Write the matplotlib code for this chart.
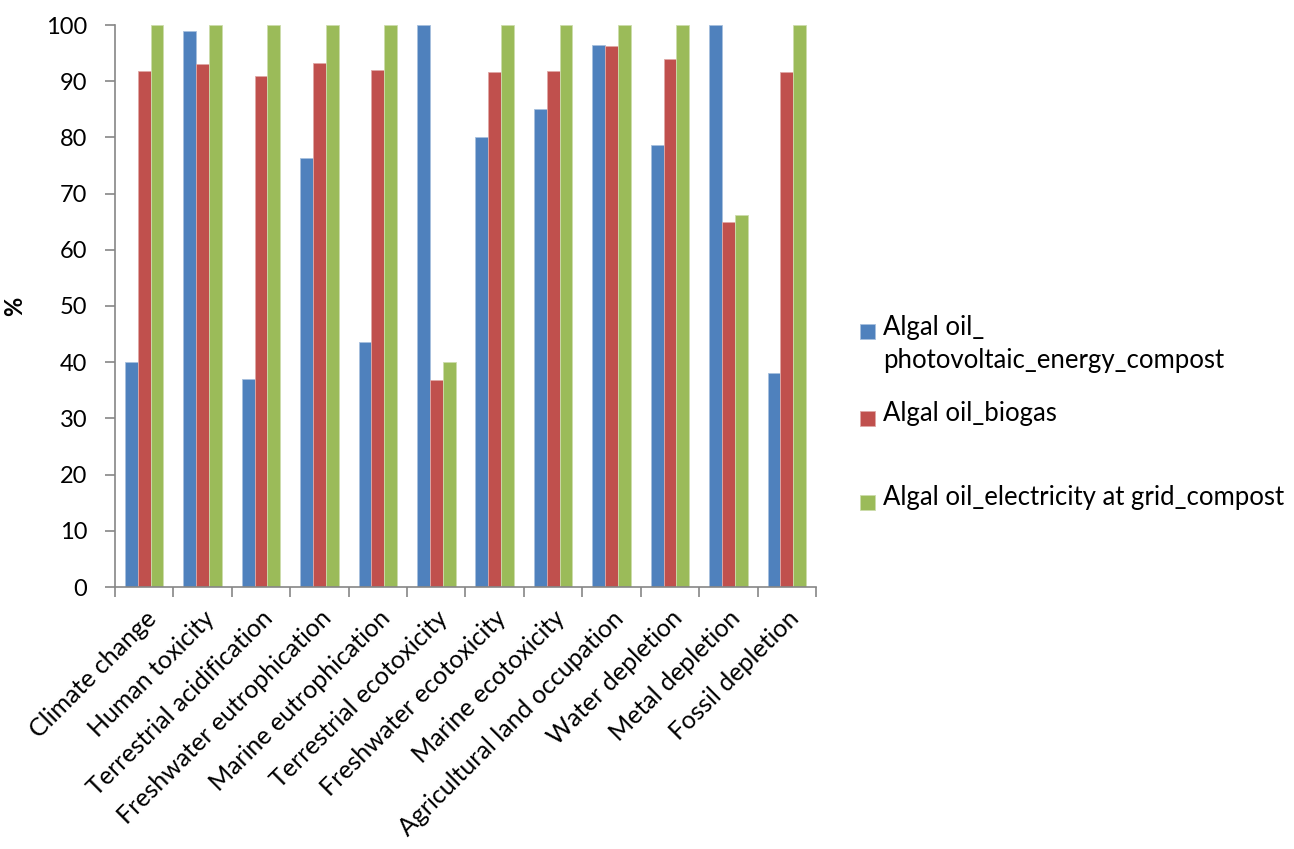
import matplotlib
matplotlib.use("Agg")
import matplotlib.pyplot as plt
import numpy as np
from matplotlib.patches import Rectangle

plt.rcParams['font.family'] = ['Lato', 'DejaVu Sans']

categories = [
    "Climate change", "Human toxicity", "Terrestrial acidification",
    "Freshwater eutrophication", "Marine eutrophication", "Terrestrial ecotoxicity",
    "Freshwater ecotoxicity", "Marine ecotoxicity", "Agricultural land occupation",
    "Water depletion", "Metal depletion", "Fossil depletion",
]
photovoltaic = [40.0, 98.9, 37.0, 76.3, 43.6, 100.0, 80.1, 85.0, 96.4, 78.7, 100.0, 38.0]
biogas = [91.9, 93.1, 91.0, 93.2, 92.0, 36.8, 91.6, 91.9, 96.3, 94.0, 64.9, 91.7]
grid = [100.0, 100.0, 100.0, 100.0, 100.0, 40.0, 100.0, 100.0, 100.0, 100.0, 66.2, 100.0]

series_labels = [
    "Algal oil_\nphotovoltaic_energy_compost",
    "Algal oil_biogas",
    "Algal oil_electricity at grid_compost",
]
colors = ["#4F81BD", "#C0504D", "#9BBB59"]
edges = ["#A7C0DE", "#E0A8A6", "#CDDDAC"]

W, H = 1294, 849
fig = plt.figure(figsize=(W / 100, H / 100), dpi=100)
ax = fig.add_axes([115 / W, 1 - 587 / H, (816 - 115) / W, (587 - 25) / H])

x = np.arange(len(categories))
w = 0.22
for i, (vals, c, e) in enumerate(zip([photovoltaic, biogas, grid], colors, edges)):
    ax.bar(x + (i - 1) * w, vals, width=w, color=c, edgecolor=e, linewidth=0.6)

ax.set_xlim(-0.5, len(categories) - 0.5)
ax.set_ylim(0, 100)
ax.set_yticks(range(0, 101, 10))
ax.tick_params(axis='y', labelsize=17, length=7, width=1.2, color='#868686', pad=13)
ax.set_xticks(np.arange(-0.5, len(categories), 1.0))
ax.set_xticklabels([])
ax.set_xticks(x, minor=True)
ax.set_xticklabels(categories, minor=True, rotation=45, ha='right',
                   rotation_mode='anchor', fontsize=18)
ax.tick_params(axis='x', which='major', length=7, width=1.2, color='#868686')
ax.tick_params(axis='x', which='minor', length=0, pad=14)
for s in ['top', 'right']:
    ax.spines[s].set_visible(False)
for s in ['left', 'bottom']:
    ax.spines[s].set_color('#868686')
    ax.spines[s].set_linewidth(1.2)
ax.set_ylabel('%', fontsize=17, fontweight='bold', labelpad=14)

# legend entries: square swatch + label, positioned in figure pixels
legend_rows = [332, 418, 502]
for lab, c, e, yc in zip(series_labels, colors, edges, legend_rows):
    fig.patches.append(Rectangle((860 / W, 1 - (yc + 7.5) / H), 15 / W, 15 / H,
                                 transform=fig.transFigure, facecolor=c,
                                 edgecolor=e, linewidth=0.6))
    fig.text(883 / W, 1 - (yc - 17) / H, lab, fontsize=18.5, va='top', ha='left',
             linespacing=1.38)

fig.savefig("out.png", dpi=100)
